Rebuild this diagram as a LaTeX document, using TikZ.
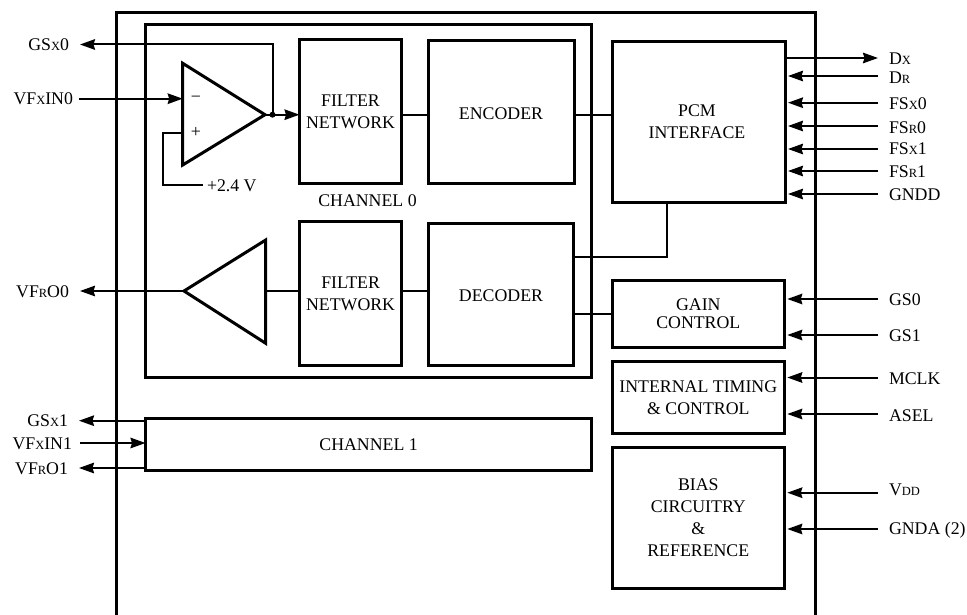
\documentclass[tikz,border=0pt]{standalone}
\usepackage{fontspec}
\setmainfont{Liberation Serif}
\usetikzlibrary{arrows.meta}
\newcommand{\smc}[1]{{\fontsize{12.5}{12}\selectfont #1}}
\tikzset{
  blk/.style={draw=black,line width=3pt,inner sep=0pt,outer sep=0pt,align=center},
  lbl/.style={inner sep=0pt,outer sep=0pt},
  pinr/.style={anchor=base west,inner ysep=0pt,inner xsep=11pt,outer sep=0pt},
  pinl/.style={anchor=base east,inner ysep=0pt,inner xsep=11pt,outer sep=0pt},
  wire/.style={line width=2pt,line cap=butt},
  arr/.style={wire,-{Stealth[length=15pt,width=10.5pt,inset=1.5pt]}},
  ampl/.style={line width=3pt,line join=miter},
  heavy/.style={line width=3pt}
}
\begin{document}
\begin{tikzpicture}[x=1pt,y=-1pt,font=\fontsize{17.8}{22.5}\selectfont]
\useasboundingbox (0,0) rectangle (967,615);
% outer open frame
\coordinate (oBL) at (116.5,615);
\coordinate (oTL) at (116.5,12.5);
\coordinate (oTR) at (815.3,12.5);
\coordinate (oBR) at (815.3,615);
\draw[heavy] (oBL) -- (oTL) -- (oTR) -- (oBR);
% blocks
\node[blk,minimum width=446.2pt,minimum height=352.5pt] (ch0) at (368.6,200.75) {};
\node[blk,minimum width=446.2pt,minimum height=51.6pt] (ch1) at (368.6,444.5) {CHANNEL 1};
\node[blk,minimum width=102pt,minimum height=144.5pt] (f1) at (350.5,111.75) {FILTER\\NETWORK};
\node[blk,minimum width=146pt,minimum height=142.5pt,text height=15.5pt] (enc) at (501,112.25) {ENCODER};
\node[blk,minimum width=173pt,minimum height=160.3pt] (pcm) at (698.5,121.85) {\hspace*{-3pt}PCM\\\hspace*{-3pt}INTERFACE};
\node[blk,minimum width=102.2pt,minimum height=144pt] (f2) at (350.6,293.7) {FILTER\\NETWORK};
\node[blk,minimum width=145.4pt,minimum height=142pt,text height=13.5pt] (dec) at (501,294.7) {DECODER};
\node[blk,minimum width=172pt,minimum height=66.6pt] (gain) at (698.3,314) {GAIN\\[-4.5pt]CONTROL};
\node[blk,minimum width=172pt,minimum height=72pt] (tim) at (698.3,397.7) {INTERNAL TIMING\\\&\ CONTROL};
\node[blk,minimum width=172pt,minimum height=140.7pt] (bias) at (698.3,517.65) {BIAS\\[-0.7pt]CIRCUITRY\\[-0.7pt]\&\\[-0.7pt]REFERENCE};
\node[lbl] (ch0t) at (367.5,201) {CHANNEL 0};
% amplifiers
\coordinate (a1t) at (182.7,63.3);
\coordinate (a1b) at (182.7,165);
\coordinate (a1o) at (265,114.7);
\draw[ampl] (a1t) -- (a1o) -- (a1b) -- cycle;
\node[lbl] (minus) at (196,99) {−};
\node[lbl] (plus) at (196,132) {+};
\coordinate (a2o) at (184,291);
\coordinate (a2t) at (265.7,240);
\coordinate (a2b) at (265.7,343.3);
\draw[ampl] (a2o) -- (a2t) -- (a2b) -- cycle;
% dot on amp output
\coordinate (dot) at (272.5,114.7);
\fill (dot) circle (3pt);
% pins, left
\node[pinl] (GSx0) at (80,50.5) {GS\smc{X}0};
\node[pinl,inner xsep=6pt] (VFxIN0) at (79,105) {VF\smc{X}IN0};
\node[pinl] (VFrO0) at (80,297) {VF\smc{R}O0};
\node[pinl] (GSx1) at (79,426) {GS\smc{X}1};
\node[pinl,inner xsep=8pt] (VFxIN1) at (80,449) {VF\smc{X}IN1};
\node[pinl] (VFrO1) at (79,474) {VF\smc{R}O1};
% pins, right
\node[pinr] (Dx) at (878,65) {D\smc{X}};
\node[pinr] (Dr) at (878,84) {D\smc{R}};
\node[pinr] (FSx0) at (878,110) {FS\smc{X}0};
\node[pinr] (FSr0) at (878,133.7) {FS\smc{R}0};
\node[pinr] (FSx1) at (878,155) {FS\smc{X}1};
\node[pinr] (FSr1) at (878,177.7) {FS\smc{R}1};
\node[pinr] (GNDD) at (878,200.3) {GNDD};
\node[pinr] (GS0) at (878,305) {GS0};
\node[pinr] (GS1) at (878,341.5) {GS1};
\node[pinr] (MCLK) at (878,384) {MCLK};
\node[pinr] (ASEL) at (878,421) {ASEL};
\node[pinr] (Vdd) at (878,495) {V\smc{DD}};
\node[pinr] (GNDA) at (878,534) {GNDA (2)};
% +2.4 V
\node[lbl,anchor=base west,inner xsep=4pt] (vref) at (203,191) {+2.4 V};
% connectors, amplifier 1
\draw[wire] (a1o) -- (dot);
\draw[arr] (dot) -- (f1.west |- dot);
\draw[arr] (dot) |- (GSx0.east |- 0,44.5);
\draw[arr] (VFxIN0.east |- 0,98.7) -- (a1t |- 0,98.7);
\draw[wire] (a1t |- 0,133) -| (163,185) -- (vref.west |- 0,185);
% connectors, chain
\draw[wire] (f1.east |- 0,115) -- (enc.west |- 0,115);
\draw[wire] (enc.east |- 0,115) -- (pcm.west |- 0,115);
\draw[wire] (dec.east |- 0,257) -| (pcm.south -| 667,0);
\draw[wire] (dec.east |- 0,314) -- (gain.west |- 0,314);
\draw[wire] (dec.west |- 0,291) -- (f2.east |- 0,291);
\draw[wire] (f2.west |- 0,291) -- (a2t |- 0,291);
\draw[arr] (a2o) -- (VFrO0.east |- a2o);
% channel 1 pins
\draw[arr] (ch1.west |- 0,420.7) -- (GSx1.east |- 0,420.7);
\draw[arr] (VFxIN1.east |- 0,443) -- (ch1.west |- 0,443);
\draw[arr] (ch1.west |- 0,468) -- (VFrO1.east |- 0,468);
% right pins
\draw[arr] (pcm.east |- 0,58) ++(2,0) -- (Dx.west |- 0,58);
\foreach \p/\t/\y in {Dr/pcm/76,FSx0/pcm/102.7,FSr0/pcm/126,FSx1/pcm/149,FSr1/pcm/171,GNDD/pcm/194,GS0/gain/299,GS1/gain/335,MCLK/tim/377.5,ASEL/tim/414,Vdd/bias/492.7,GNDA/bias/529}
  \draw[arr,shorten >=3pt] (\p.west |- 0,\y) -- (\t.east |- 0,\y);
\end{tikzpicture}
\end{document}
